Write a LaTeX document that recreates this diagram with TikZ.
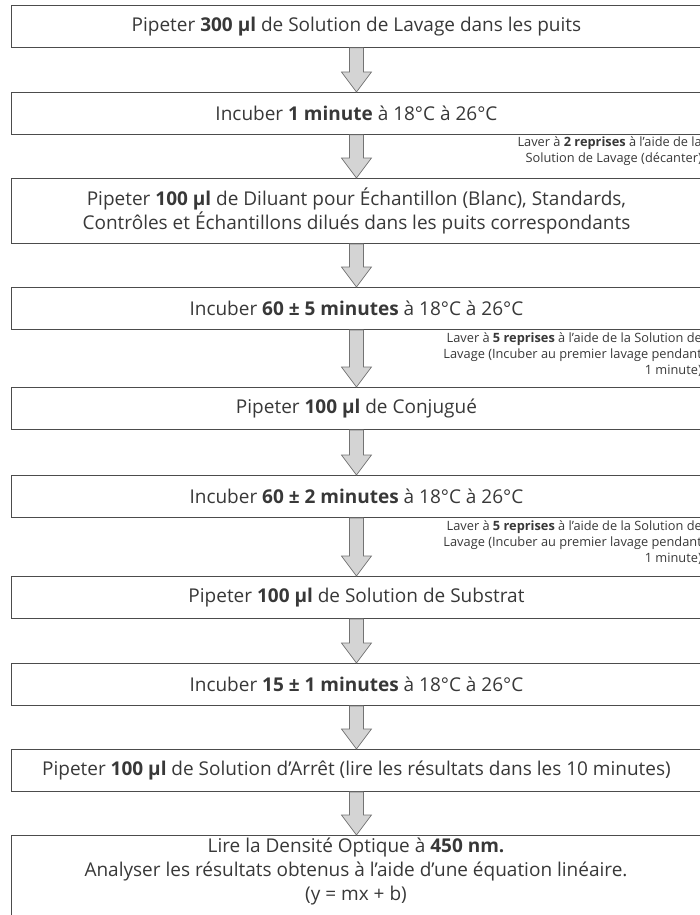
\documentclass[tikz,border=0pt]{standalone}
\usepackage{fontspec}
\setmainfont{Open Sans}
\usetikzlibrary{calc}
\newcommand{\mainsz}{\fontsize{19}{24}\selectfont}
\newcommand{\sidesz}{\fontsize{12.8}{16}\selectfont}
\tikzset{
  stepbox/.style={draw=black!70, line width=0.9pt, minimum width=690pt, minimum height=42pt,
    anchor=north west, inner sep=0pt, align=center, font=\mainsz, text=black!78},
  sidenote/.style={anchor=north east, inner sep=0pt, align=right, font=\sidesz, text=black!78},
  flowarrow/.style={fill=black!17, draw=black!55, line width=0.7pt, line join=miter},
}
\newcommand{\flowarr}[2]{%
  \path[flowarrow] let \p1=(#1.south), \p2=(#2.north) in
    (\x1-7pt,\y1) -- (\x1+7pt,\y1) -- (\x1+7pt,\y2+20pt) -- (\x1+15pt,\y2+20pt)
    -- (\x1,\y2) -- (\x1-15pt,\y2+20pt) -- (\x1-7pt,\y2+20pt) -- cycle;}
\begin{document}
\begin{tikzpicture}[x=1pt,y=-1pt]
\useasboundingbox (0,0) rectangle (699,915);
\node[stepbox] (b1) at (11,5) {Pipeter \textbf{300 µl} de Solution de Lavage dans les puits};
\node[stepbox] (b2) at (11,92) {Incuber \textbf{1 minute} à 18°C à 26°C};
\node[stepbox, minimum height=65pt] (b3) at (11,178) {Pipeter \textbf{100 µl} de Diluant pour Échantillon (Blanc), Standards,\\Contrôles et Échantillons dilués dans les puits correspondants};
\node[stepbox] (b4) at (11,287) {Incuber \textbf{60 ± 5 minutes} à 18°C à 26°C};
\node[stepbox] (b5) at (11,387) {Pipeter \textbf{100 µl} de Conjugué};
\node[stepbox] (b6) at (11,475) {Incuber \textbf{60 ± 2 minutes} à 18°C à 26°C};
\node[stepbox] (b7) at (11,576) {Pipeter \textbf{100 µl} de Solution de Substrat};
\node[stepbox] (b8) at (11,663) {Incuber \textbf{15 ± 1 minutes} à 18°C à 26°C};
\node[stepbox] (b9) at (11,749) {Pipeter \textbf{100 µl} de Solution d’Arrêt (lire les résultats dans les 10 minutes)};
\node[stepbox, minimum height=95pt] (b10) at (11,835) {};
\node[anchor=north, inner sep=0pt, align=center, font=\mainsz, text=black!78] (t10) at (356,838)
  {Lire la Densité Optique à \textbf{450 nm.}\\Analyser les résultats obtenus à l’aide d’une équation linéaire.\\(y = mx + b)};
\node[sidenote] (s1) at (702,136) {Laver à \textbf{2 reprises} à l’aide de la\\Solution de Lavage (décanter)};
\node[sidenote] (s2) at (702,332) {Laver à \textbf{5 reprises} à l’aide de la Solution de\\Lavage (Incuber au premier lavage pendant\\1 minute)};
\node[sidenote] (s3) at (702,520) {Laver à \textbf{5 reprises} à l’aide de la Solution de\\Lavage (Incuber au premier lavage pendant\\1 minute)};
\flowarr{b1}{b2}
\flowarr{b2}{b3}
\flowarr{b3}{b4}
\flowarr{b4}{b5}
\flowarr{b5}{b6}
\flowarr{b6}{b7}
\flowarr{b7}{b8}
\flowarr{b8}{b9}
\flowarr{b9}{b10}
\end{tikzpicture}
\end{document}
